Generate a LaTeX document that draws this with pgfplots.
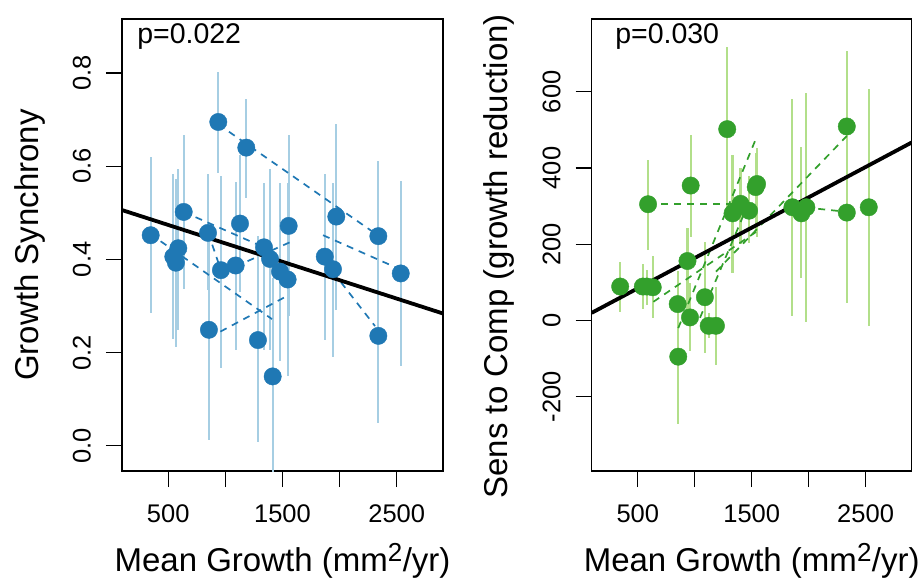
\documentclass[border=0pt]{standalone}
\usepackage{pgfplots}
\usepackage{pgfplotstable}
\pgfplotsset{compat=1.18}
\usepackage{fontspec}
\setmainfont{Liberation Sans}
\definecolor{dblue}{HTML}{1F78B4}
\definecolor{lblue}{HTML}{A6CEE3}
\definecolor{dgreen}{HTML}{33A02C}
\definecolor{lgreen}{HTML}{B2DF8A}

\pgfplotstableread{
x y lo hi
346 0.452 0.286 0.619
544 0.406 0.229 0.583
567 0.393 0.212 0.572
588 0.424 0.249 0.595
635 0.502 0.336 0.668
848 0.457 0.334 0.583
856 0.249 0.013 0.470
938 0.695 0.585 0.803
961 0.377 0.167 0.579
1090 0.387 0.206 0.567
1128 0.477 0.330 0.624
1183 0.640 0.531 0.745
1285 0.227 0.009 0.450
1338 0.426 0.206 0.565
1391 0.401 0.206 0.595
1414 0.149 -0.120 0.360
1478 0.374 0.181 0.565
1545 0.357 0.149 0.565
1554 0.472 0.279 0.667
1870 0.406 0.227 0.583
1942 0.379 0.191 0.565
1971 0.492 0.292 0.690
2339 0.450 0.300 0.611
2339 0.236 0.050 0.420
2535 0.370 0.172 0.568
}\leftdata

\pgfplotstableread{
x y lo hi
345 89 23 154
544 89 29 148
579 89 41 133
590 305 185 421
631 87 6 170
850 43 -40 130
855 -95 -272 30
936 156 28 242
958 8 -79 98
964 354 220 487
1089 61 -86 207
1122 -14 -46 20
1186 -14 -117 89
1285 502 290 717
1332 281 124 434
1402 306 200 399
1477 288 203 380
1535 350 230 440
1547 358 220 452
1857 297 12 581
1936 281 111 456
1980 297 -3 598
2335 509 300 708
2335 283 47 480
2528 297 -14 607
}\rightdata

\pgfplotsset{
  myaxis/.style={
    scale only axis, height=452pt,
    xmin=95, xmax=2905,
    xtick={500,1000,1500,2000,2500},
    xticklabels={500,,1500,,2500},
    tick align=outside, major tick length=16pt,
    xtick pos=left, ytick pos=left,
    axis line style={line width=1.5pt},
    every tick/.style={line width=1.3pt, black},
    tick label style={font=\fontsize{25.5}{30}\selectfont},
    label style={font=\fontsize{33}{40}\selectfont},
    xticklabel style={anchor=north, inner sep=0pt, yshift=-17pt},
    yticklabel style={xshift=-15pt, rotate=90, anchor=south, inner sep=0pt},
    xlabel style={at={(axis description cs:0.5,0)}, anchor=base, yshift=-100pt},
    xlabel={Mean Growth (mm\textsuperscript{\fontsize{26}{30}\selectfont 2}/yr)},
  },
  ebar/.style={draw=none, mark=none, forget plot,
    error bars/.cd, y dir=both, y explicit, error mark=none,
    error bar style={line width=2.2pt, draw=#1}},
  seg/.style={#1, line width=1.7pt, dash pattern=on 7pt off 6pt, mark=none},
}

\begin{document}
\begin{tikzpicture}
\useasboundingbox (0,0) rectangle (919pt,579pt);
\begin{axis}[myaxis, width=321pt, at={(122pt,108pt)}, anchor=south west,
  ymin=-0.054, ymax=0.916,
  ytick={0,0.2,0.4,0.6,0.8}, yticklabels={0.0,0.2,0.4,0.6,0.8},
  ylabel={Growth Synchrony},
  ylabel style={at={(axis description cs:-0.2586,0.5)}, anchor=base, rotate=0}]
\addplot[ebar=lblue] table[x=x, y=y, y error plus expr=\thisrow{hi}-\thisrow{y}, y error minus expr=\thisrow{y}-\thisrow{lo}] {\leftdata};
\addplot[seg=dblue] coordinates {(938,0.690) (2310,0.456)};
\addplot[seg=dblue] coordinates {(635,0.502) (1347,0.425)};
\addplot[seg=dblue] coordinates {(1855,0.452) (2528,0.379)};
\addplot[seg=dblue] coordinates {(1942,0.373) (2310,0.257)};
\addplot[seg=dblue] coordinates {(340,0.455) (1408,0.272)};
\addplot[seg=dblue] coordinates {(848,0.458) (961,0.377)};
\addplot[seg=dblue] coordinates {(1090,0.385) (1566,0.437)};
\addplot[seg=dblue] coordinates {(856,0.232) (1520,0.319)};
\addplot[only marks, mark=*, mark size=8.7pt, mark options={fill=dblue, draw=dblue}] table[x=x, y=y] {\leftdata};
\addplot[black, line width=3.8pt, mark=none] coordinates {(95,0.506) (2905,0.284)};
\node[anchor=base west, inner sep=0pt, font=\fontsize{28.5}{32}\selectfont] at (rel axis cs:0.047,0.945) {p=0.022};
\end{axis}

\begin{axis}[myaxis, width=320pt, at={(591.7pt,108pt)}, anchor=south west,
  ymin=-395, ymax=791,
  ytick={-200,0,200,400,600}, yticklabels={-200,0,200,400,600},
  ylabel={Sens to Comp (growth reduction)},
  ylabel style={at={(axis description cs:-0.2625,0.475)}, anchor=base, rotate=0}]
\addplot[ebar=lgreen] table[x=x, y=y, y error plus expr=\thisrow{hi}-\thisrow{y}, y error minus expr=\thisrow{y}-\thisrow{lo}] {\rightdata};
\addplot[seg=dgreen] coordinates {(590,305) (1402,305)};
\addplot[seg=dgreen] coordinates {(1857,300) (2335,285)};
\addplot[seg=dgreen] coordinates {(1186,128) (2335,484)};
\addplot[seg=dgreen] coordinates {(637,49) (1542,233)};
\addplot[seg=dgreen] coordinates {(855,-20) (1547,484)};
\addplot[seg=dgreen] coordinates {(1046,7) (1466,303)};
\addplot[only marks, mark=*, mark size=8.7pt, mark options={fill=dgreen, draw=dgreen}] table[x=x, y=y] {\rightdata};
\addplot[black, line width=3.8pt, mark=none] coordinates {(95,20) (2905,467)};
\node[anchor=base west, inner sep=0pt, font=\fontsize{28.5}{32}\selectfont] at (rel axis cs:0.073,0.945) {p=0.030};
\end{axis}
\end{tikzpicture}
\end{document}
